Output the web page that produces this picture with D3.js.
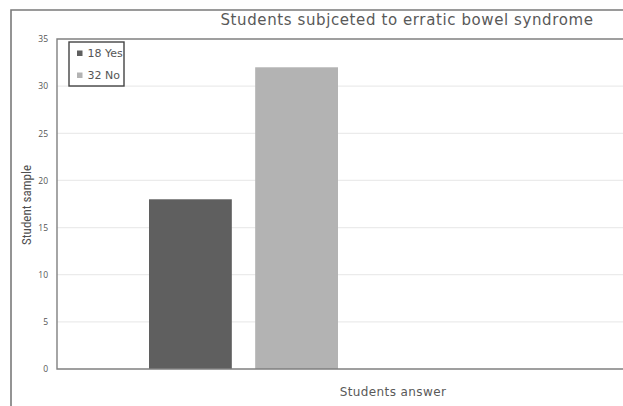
<!DOCTYPE html>
<html>
<head>
<meta charset="utf-8">
<script src="https://cdn.jsdelivr.net/npm/d3@7"></script>
<style>
  html, body { margin: 0; padding: 0; background: #fff; }
  svg { display: block; }
  text { font-family: "Open Sans", "DejaVu Sans", sans-serif; }
</style>
</head>
<body>
<svg id="chart" width="623" height="406"></svg>
<script>
// Survey answers: number of students per answer
const answers = ["Yes", "No"];
const counts = [18, 32];
const legendLabels = ["18 Yes", "32 No"];
const barColors = ["#5f5f5f", "#b3b3b3"];
const yTicks = [0, 5, 10, 15, 20, 25, 30, 35];

const title = "Students subjceted to erratic bowel syndrome";
const xTitle = "Students answer";
const yTitle = "Student sample";

const svg = d3.select("#chart");
const W = 623, H = 406;

const plot = { left: 57, top: 39, bottom: 369 };

// Outer chart frame (top and left edges visible)
svg.append("path")
  .attr("d", `M11,${H + 2} L11,10 L${W + 2},10`)
  .attr("fill", "none")
  .attr("stroke", "#7a7a7a")
  .attr("stroke-width", 1.6);

const y = d3.scaleLinear().domain([0, 35]).range([plot.bottom, plot.top]);
const x = d3.scaleBand().domain(answers).range([149, 338]).paddingInner(0.22).paddingOuter(0);

// Horizontal gridlines
svg.append("g")
  .selectAll("line")
  .data(yTicks.filter(t => t > 0 && t < 35))
  .join("line")
  .attr("x1", plot.left).attr("x2", W)
  .attr("y1", d => y(d)).attr("y2", d => y(d))
  .attr("stroke", "#ebebeb")
  .attr("stroke-width", 1.2);

// Y axis tick labels
const yAxis = d3.axisLeft(y).tickValues(yTicks).tickSize(0).tickPadding(9);
const gy = svg.append("g").attr("transform", `translate(${plot.left},0)`).call(yAxis);
gy.select(".domain").remove();
gy.selectAll("text")
  .attr("fill", "#555")
  .style("font-size", "8.5px")
  .style("font-family", "'Open Sans', sans-serif");

// Bars
svg.append("g")
  .selectAll("rect")
  .data(answers.map((a, i) => ({ a, v: counts[i], c: barColors[i] })))
  .join("rect")
  .attr("x", d => x(d.a))
  .attr("width", x.bandwidth())
  .attr("y", d => y(d.v))
  .attr("height", d => y(0) - y(d.v))
  .attr("fill", d => d.c);

// Plot area border: top, left, bottom
svg.append("path")
  .attr("d", `M${W + 2},${plot.top} L${plot.left},${plot.top} L${plot.left},${plot.bottom} L${W + 2},${plot.bottom}`)
  .attr("fill", "none")
  .attr("stroke", "#808080")
  .attr("stroke-width", 1.4);

// Title
svg.append("text")
  .attr("x", 407)
  .attr("y", 25)
  .attr("text-anchor", "middle")
  .attr("fill", "#595959")
  .style("font-family", "'DejaVu Sans', sans-serif")
  .style("font-size", "15px")
  .style("letter-spacing", "0.6px")
  .text(title);

// Axis titles
svg.append("text")
  .attr("x", 393)
  .attr("y", 396)
  .attr("text-anchor", "middle")
  .attr("fill", "#595959")
  .style("font-family", "'DejaVu Sans', sans-serif")
  .style("font-size", "12px")
  .style("letter-spacing", "0.4px")
  .text(xTitle);

svg.append("text")
  .attr("transform", "translate(31,205) rotate(-90)")
  .attr("text-anchor", "middle")
  .attr("fill", "#4f4f4f")
  .style("font-size", "13px")
  .style("font-family", "'Liberation Sans Narrow', 'Roboto Condensed', sans-serif")
  .text(yTitle);

// Legend
const legend = { x: 69, y: 42, w: 55, h: 44 };
svg.append("clipPath").attr("id", "lgclip")
  .append("rect").attr("width", legend.w).attr("height", legend.h);
const lg = svg.append("g").attr("transform", `translate(${legend.x},${legend.y})`);
lg.append("rect")
  .attr("width", legend.w).attr("height", legend.h)
  .attr("fill", "#fff");
const items = lg.append("g").attr("clip-path", "url(#lgclip)")
  .selectAll("g")
  .data(legendLabels.map((l, i) => ({ l, c: barColors[i] })))
  .join("g")
  .attr("transform", (d, i) => `translate(0,${11 + i * 22})`);
items.append("rect")
  .attr("x", 8).attr("y", -2.5).attr("width", 5.5).attr("height", 5.5)
  .attr("fill", d => d.c);
items.append("text")
  .attr("x", 18.5).attr("y", 4)
  .attr("fill", "#555")
  .style("font-family", "'DejaVu Sans', sans-serif")
  .style("font-size", "11px")
  .text(d => d.l);
lg.append("rect")
  .attr("width", legend.w).attr("height", legend.h)
  .attr("fill", "none")
  .attr("stroke", "#444")
  .attr("stroke-width", 1.4);
</script>
</body>
</html>
